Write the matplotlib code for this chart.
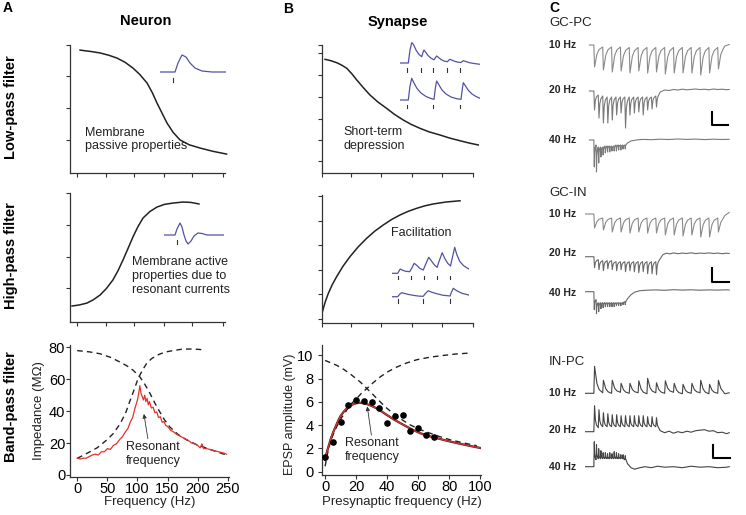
import matplotlib.pyplot as plt

plt.rcParams['font.family'] = ['Liberation Sans', 'DejaVu Sans']

# ---------------- data ----------------
# A: neuron (arbitrary units 0-10)
a1_x = [0.65, 1.3, 1.94, 2.5, 3.03, 3.55, 4.06, 4.5, 4.97, 5.3, 5.61, 5.95, 6.26, 6.65,
        7.1, 7.7, 8.39, 9.2, 10.1]
a1_y = [9.6, 9.5, 9.38, 9.2, 8.98, 8.65, 8.2, 7.7, 7.03, 6.3, 5.47, 4.65, 3.9, 3.18,
        2.58, 2.2, 1.95, 1.7, 1.48]
a2_x = [0.13, 0.6, 1.1, 1.5, 1.94, 2.35, 2.77, 3.1, 3.42, 3.75, 4.06, 4.38, 4.71, 5.15,
        5.61, 6.1, 6.65, 7.29, 7.8, 8.32]
a2_y = [1.24, 1.32, 1.47, 1.72, 2.09, 2.6, 3.26, 3.98, 4.81, 5.72, 6.59, 7.38, 8.06, 8.56,
        8.91, 9.12, 9.22, 9.3, 9.27, 9.15]

# A inset waveforms (ms, mV-like units)
a1_psp_t = [0, 15, 18, 22, 26, 30, 35, 42, 52, 66]
a1_psp_v = [0, 0, 9, 17, 15, 9, 4, 1, 0, 0]
a2_psp_t = [0, 11, 13, 16, 18, 20, 22, 24, 27, 30, 34, 38, 43, 60]
a2_psp_v = [0, 0, 6, 12, 8, 0, -6, -9, -6, -1, 2, 1.5, 0, 0]

# A3: impedance (MOhm) vs frequency (Hz)
lp_f = [0, 20, 38, 55, 71, 83, 93, 104, 112, 121, 129, 137, 145, 154, 167, 182, 198, 215,
        232, 248]
lp_z = [78, 77.2, 76, 73.8, 70.8, 68.3, 65.6, 61.5, 57, 51, 45, 39.6, 34.5, 30, 25.5,
        21.9, 19, 16.7, 14.5, 12.5]
hp_f = [0, 16, 33, 49, 60, 71, 80, 88, 95, 101, 108, 115, 123, 132, 145, 159, 173, 187,
        200, 209]
hp_z = [10.4, 13.5, 17, 21.9, 26, 32, 38.5, 46.9, 54, 60.4, 65.5, 69.8, 72.8, 75, 77, 78,
        78.8, 79, 78.8, 78.5]
imp_f = [0, 5, 10, 15, 20, 25, 30, 35, 40, 45, 50, 55, 60, 65, 70, 75, 80, 84, 88, 92,
         96, 100, 102, 104, 106, 108, 110, 112, 114, 116, 118, 120, 123, 126, 129, 132,
         135, 138, 141, 144, 147, 150, 155, 160, 165, 170, 175, 180, 185, 190, 195, 200,
         204, 207, 210, 215, 220, 225, 230, 235, 240, 245, 248]
imp_z = [10.5, 10, 10.5, 10.5, 11.5, 12.5, 13, 12.5, 14.5, 14.5, 16.5, 16, 18.5, 19.5,
         22, 24, 27, 29, 33, 36, 42, 47, 51, 56, 51, 49, 47, 50, 46, 48, 44, 46, 42, 42.5,
         39, 39.5, 36, 36.5, 33, 33.5, 31, 30.5, 28, 27, 25.5, 24.5, 23.5, 22.5, 21.5, 20,
         19.5, 18.5, 17, 19.5, 16.5, 16.5, 16, 15.5, 15, 14.5, 14, 13.5, 13]

# B: synapse (arbitrary units 0-10)
b1_x = [0.2, 0.6, 0.97, 1.3, 1.64, 1.97, 2.3, 2.75, 3.18, 3.7, 4.28, 4.8, 5.38, 5.9,
        6.49, 7.1, 7.81, 8.45, 9.14, 9.75, 10.35]
b1_y = [8.88, 8.77, 8.62, 8.43, 8.18, 7.76, 7.27, 6.65, 6.09, 5.55, 5.05, 4.58, 4.14,
        3.8, 3.49, 3.21, 2.97, 2.73, 2.52, 2.34, 2.19]
b2_x = [0.0, 0.2, 0.42, 0.68, 0.97, 1.4, 1.85, 2.4, 2.96, 3.5, 4.06, 4.6, 5.17, 5.7,
        6.27, 6.8, 7.37, 8.2, 9.14]
b2_y = [0.76, 1.6, 2.32, 3.0, 3.62, 4.45, 5.18, 5.95, 6.62, 7.18, 7.66, 8.08, 8.44, 8.72,
        8.96, 9.15, 9.3, 9.45, 9.55]

# B inset EPSP trains
dep5_t = [0, 8.3, 10, 11.7, 13.5, 16, 19, 21.7, 23, 24, 25.5, 28, 31, 34, 35.5, 36.7,
          38.5, 41, 44, 47.5, 49, 50, 52, 55, 58, 61, 62.3, 63.3, 65.5, 69, 74, 80]
dep5_v = [0, 0, 13, 20.3, 18.5, 13, 8.5, 6.3, 10.5, 13, 11, 7.5, 4.8, 3.2, 5.5, 7, 5.5,
          3.5, 2, 1.3, 3, 3.7, 2.8, 1.6, 0.8, 0.5, 1.6, 2.3, 1.6, 0.4, -0.5, -1.3]
dep5_stim = [7.3, 20.7, 33.3, 46.7, 60]
dep3_t = [0, 8.3, 10, 11.7, 14, 17, 21, 26, 31, 34, 35.5, 36.7, 39, 42, 46, 51, 57, 61,
          62.3, 63.3, 65.5, 68.5, 72, 76, 80]
dep3_v = [0, 0, 14, 21.7, 17, 11.5, 7, 3.5, 1.5, 0.7, 13, 19, 15, 10, 6, 3, 1.2, 0.7,
          11, 17.3, 14, 9.5, 6, 3.5, 1.7]
dep3_stim = [7.3, 33.3, 60]
fac5_t = [0, 6, 8.5, 11, 14, 18, 20, 22.5, 25, 28, 31.6, 33.5, 37, 40, 43, 45.5, 47,
          50.5, 53, 56, 58.8, 60.5, 63, 65, 68, 72, 77.6]
fac5_v = [0, 0, 4.3, 3, 2, 1.6, 5, 10, 8, 5, 3.3, 8, 16, 12, 8, 6, 11, 20.6, 15, 10,
          7.3, 15, 26, 19, 12, 7.5, 4]
fac5_stim = [6, 19, 32.3, 45, 58.3]
fac3_t = [0, 6, 8, 10, 13, 17, 22, 27, 31.6, 33.5, 36.6, 40, 45, 51, 58.3, 60, 61.6,
          65, 70, 77.6]
fac3_v = [0, 0, 2.5, 4, 3.2, 2.2, 1.3, 0.6, 0.4, 3, 6, 4.5, 3, 1.5, 0.7, 5, 8.4, 6,
          3.5, 1.5]
fac3_stim = [6, 31.6, 58.3]

# B3: EPSP amplitude (mV) vs presynaptic frequency (Hz)
dep_f = [0, 7.5, 12, 16, 19.5, 22.6, 26.9, 30, 33.3, 38.7, 42.5, 46.2, 50.5, 54.8, 61,
         67.7, 74, 80.6, 89, 97.8]
dep_a = [9.57, 9.15, 8.8, 8.43, 8.05, 7.72, 7.15, 6.75, 6.3, 5.58, 5.15, 4.79, 4.38,
         4.02, 3.62, 3.3, 3.0, 2.74, 2.47, 2.22]
fac_f = [0, 1.5, 3.2, 5.2, 7.5, 10.5, 14, 17, 20.4, 23.5, 26.9, 31, 35.5, 40.5, 46.2,
         52.5, 59.1, 67.5, 76.3, 84, 92.5]
fac_a = [0.45, 1.5, 2.45, 3.2, 3.87, 4.6, 5.3, 5.85, 6.3, 6.75, 7.15, 7.65, 8.15, 8.6,
         9.0, 9.35, 9.63, 9.85, 10.0, 10.12, 10.2]
fit_f = [0, 1, 2.2, 3.7, 5.4, 7.5, 9.7, 11.8, 14, 16, 18.3, 20.5, 22.6, 24.8, 26.9, 30,
         33.3, 36.5, 39.8, 45, 50.5, 55.8, 61.3, 66.5, 72, 78.5, 85, 92.5, 100]
fit_a = [1.0, 1.6, 2.16, 2.83, 3.44, 4.1, 4.73, 5.12, 5.44, 5.65, 5.81, 5.9, 5.92, 5.89,
         5.81, 5.65, 5.44, 5.17, 4.87, 4.43, 4.02, 3.64, 3.3, 3.07, 2.88, 2.65, 2.45,
         2.23, 2.03]
epsp_f = [0, 5, 10, 15, 20, 25, 30, 35, 40, 45, 50, 55, 60, 65, 70]
epsp_a = [1.25, 2.55, 4.25, 5.7, 6.15, 6.05, 5.95, 5.5, 4.2, 4.8, 4.85, 3.5, 3.75, 3.15, 3.0]

# C: recordings, stimulus onsets (ms) and response sizes (trace units)
on10 = [100, 200, 300, 400, 500, 600, 700, 800, 900, 1000, 1100, 1200, 1300, 1400, 1500]
on20 = [100, 150, 200, 250, 300, 350, 400, 450, 500, 550, 600, 650, 700, 750, 800]
on40 = [100, 125, 150, 175, 200, 225, 250, 275, 300, 325, 350, 375, 400, 425, 450]

gcpc10_pk = [-22, -25, -27, -26, -28, -26, -28, -27, -29, -28, -28, -28, -30, -28, -24]
gcpc10_rest = [-2, -2, -2, -2.5, -2.5, -2.5, -2.5, -2.5, -2.5, -2.5, -2.5, -2.5, -2.5, -2.5, -1.5]
gcpc10_tt = [1580, 1630]
gcpc10_tv = [-1, 0.5]
gcpc20_pk = [-19, -27, -32, -32, -29, -24, -22, -37, -24, -22, -21, -24, -19, -18, -16]
gcpc20_rest = [-4, -5, -6, -6, -6, -6, -6, -6, -6, -6, -6, -6, -6, -5, -3]
gcpc20_tt = [850, 900, 950, 1000, 1050, 1100, 1150, 1200, 1250, 1300, 1350, 1400, 1450,
             1500, 1550, 1600, 1630]
gcpc20_tv = [-1, 1, 0.5, 1.5, 1, 1.8, 1.2, 1.6, 2, 1.4, 1.8, 1.2, 2, 1.5, 1.8, 1.3, 1.5]
gcpc40_pk = [-27, -32, -23, -17, -15, -13, -12, -12, -11, -11, -11, -10, -10, -9, -9]
gcpc40_rest = [-5, -7, -7, -7, -6, -6, -6, -6, -6, -5, -5, -5, -5, -5, -4]
gcpc40_tt = [480, 520, 580, 650, 750, 850, 950, 1050, 1150, 1250, 1350, 1450, 1550, 1630]
gcpc40_tv = [-3, -1, 0, 0.6, 0.3, 0.8, 0.5, 1, 0.6, 0.9, 0.4, 0.8, 0.5, 0.7]

gcin10_pk = [-14, -16, -18, -18, -19, -18, -19, -19, -21, -21, -22, -21, -23, -23, -18]
gcin10_rest = [-4, -4, -4, -4, -4, -4, -4, -4, -4, -4, -4, -4, -4, -4, -3]
gcin10_tt = [1580, 1630]
gcin10_tv = [-1.5, 1.5]
gcin20_pk = [-11, -13, -14, -12, -13, -14, -13, -15, -14, -15, -16, -15, -17, -17, -18]
gcin20_rest = [-3, -4, -4, -4, -5, -5, -5, -5, -5, -5, -5, -5, -5, -5, -3]
gcin20_tt = [850, 880, 920, 960, 1000, 1050, 1100, 1150, 1200, 1250, 1300, 1350, 1400,
             1450, 1500, 1550, 1600, 1630]
gcin20_tv = [-2, 2, 3.5, 2.8, 3.8, 3, 3.6, 3.2, 3.9, 3.1, 3.6, 3.3, 3.8, 3.2, 3.6, 3,
             3.5, 3.2]
gcin40_pk = [-18, -22, -20, -17, -16, -15, -15, -15, -15, -15, -14, -14, -14, -13, -13]
gcin40_rest = [-8, -11, -11, -11, -11, -11, -11, -11, -11, -11, -11, -11, -11, -10, -9]
gcin40_tt = [480, 520, 560, 620, 700, 800, 900, 1000, 1100, 1200, 1300, 1400, 1500, 1600, 1630]
gcin40_tv = [-7, -3, -0.5, 1, 1.5, 1.8, 1.4, 2, 1.6, 1.9, 1.5, 1.8, 1.6, 1.9, 1.7]

inpc10_pk = [27, 13, 13, 10, 10, 12.5, 15, 10.5, 12.5, 10, 9, 10, 13, 9, 13]
inpc10_rest = [0.5, 0, 1, 0, 0.5, -0.5, 0.5, 0, 1, -0.5, 0, 0.5, -0.5, 0, 0.5]
inpc10_tt = [1580, 1630]
inpc10_tv = [-0.5, 0.5]
inpc20_pk = [26, 22, 19, 18, 17, 17, 16, 16, 16, 16, 16, 16, 15, 15, 14]
inpc20_rest = [4, 5, 5, 5, 5, 5, 5, 5, 5, 5, 5, 5, 5, 5, 3]
inpc20_tt = [850, 900, 950, 1000, 1050, 1100, 1150, 1200, 1250, 1300, 1350, 1400, 1450,
             1500, 1550, 1600, 1630]
inpc20_tv = [1, -1, 0.5, -1.5, 0, -1, 0.5, -0.5, 1, 1.5, 2, 0.5, 1, -1, -0.5, -2, -1]
inpc40_pk = [25, 22, 18, 16, 14, 14, 13, 14, 13, 15, 14, 13, 12, 12, 11]
inpc40_rest = [7, 8, 8, 8, 8, 8, 8, 8, 8, 8, 8, 8, 8, 7, 6]
inpc40_tt = [480, 520, 560, 620, 680, 750, 820, 900, 1000, 1100, 1200, 1300, 1400, 1500,
             1600, 1630]
inpc40_tv = [3, -1, -2.5, -1, 0, -1, 0.5, -0.5, 0, -1, 0.5, -0.5, 0, -1, -0.5, 0]

# ---------------- figure ----------------
W, H = 746, 515
fig = plt.figure(figsize=(W / 100, H / 100), dpi=100)
INK = '#222222'
BLUE = '#5252a4'


def box(x0, y0, x1, y1):
    # axes placed by pixel box (origin top-left)
    return fig.add_axes([x0 / W, 1 - y1 / H, (x1 - x0) / W, (y1 - y0) / H])


def frame(ax, xt, yt, labels=False, ypad=1.5):
    for s in ['top', 'right']:
        ax.spines[s].set_visible(False)
    for s in ['left', 'bottom']:
        ax.spines[s].set_linewidth(0.9)
        ax.spines[s].set_color('#333333')
    ax.set_xticks(xt)
    ax.set_yticks(yt)
    ax.tick_params(direction='out', length=3, width=0.8, color='#333333',
                   labelsize=10.5)
    ax.tick_params(axis='x', pad=0.5)
    ax.tick_params(axis='y', pad=ypad)
    if not labels:
        ax.set_xticklabels([])
        ax.set_yticklabels([])
    ax.patch.set_visible(False)


def inset(x0, y0, x1, y1, xlim, ylim):
    ax = box(x0, y0, x1, y1)
    ax.set_xlim(*xlim)
    ax.set_ylim(*ylim)
    ax.axis('off')
    return ax


def stim(ax, ts, v0, v1):
    for t in ts:
        ax.plot([t, t], [v0, v1], color='#333333', lw=0.8)


def train(start, onsets, peaks, rests, tail_t, tail_v, period):
    t, v = [start], [0]
    prev = 0
    rise = min(8, 0.2 * period)
    for on, p, r in zip(onsets, peaks, rests):
        t += [on, on + rise, on + 0.35 * period, on + 0.6 * period]
        v += [prev, p, r + 0.35 * (p - r), r + 0.12 * (p - r)]
        prev = r
    return t + tail_t, v + tail_v


def text(x, y, s, **kw):
    fig.text(x / W, 1 - y / H, s, **kw)


# panel A1
ax = box(70, 45, 225, 173)
ax.set_xlim(0, 10); ax.set_ylim(0, 10)
frame(ax, [0.45, 2.3, 4.1, 6.06, 7.9, 9.9], [2.58, 5.08, 7.58, 10])
ax.plot(a1_x, a1_y, color=INK, lw=1.1, clip_on=False)
ax.text(0.97, 2.62, 'Membrane\npassive properties', fontsize=9, va='center', color=INK)
ins = inset(160, 52, 226, 84, (0, 66), (-12, 20))
ins.plot(a1_psp_t, a1_psp_v, color=BLUE, lw=0.9)
stim(ins, [13.3], -6.3, -9.7)

# panel A2
ax = box(70, 193, 225, 322)
ax.set_xlim(0, 10); ax.set_ylim(0, 10)
frame(ax, [0.45, 2.3, 4.1, 6.06, 7.9, 9.9], [2.64, 5.04, 7.5, 10])
ax.plot(a2_x, a2_y, color=INK, lw=1.1)
ax.text(4.0, 3.57, 'Membrane active\nproperties due to\nresonant currents',
        fontsize=9, va='center', color=INK)
ins = inset(164, 220, 224, 247, (0, 60), (-12, 15))
ins.plot(a2_psp_t, a2_psp_v, color=BLUE, lw=0.9)
stim(ins, [13], -5, -8.5)

# panel A3
ax = box(70, 345, 229, 477)
ax.set_xlim(-12, 252); ax.set_ylim(-1.3, 81.5)
frame(ax, [0, 50, 100, 150, 200, 250], [0, 20, 40, 60, 80], labels=True, ypad=0.5)
ax.plot(lp_f, lp_z, color=INK, lw=1.0, ls=(0, (4, 3)))
ax.plot(hp_f, hp_z, color=INK, lw=1.0, ls=(0, (4, 3)))
ax.plot(imp_f, imp_z, color='#e2322b', lw=0.9)
ax.annotate('', xy=(110, 40), xytext=(118, 21),
            arrowprops=dict(arrowstyle='-|>', lw=0.6, color='#333333', mutation_scale=6))
ax.text(126, 13, 'Resonant\nfrequency', fontsize=9, ha='center', va='center', color=INK)
ax.set_ylabel('Impedance (M\u03a9)', fontsize=9.5, color=INK)
ax.yaxis.set_label_coords(-0.16, 0.5)
ax.set_xlabel('Frequency (Hz)', fontsize=9.5, color=INK)
ax.xaxis.set_label_coords(0.5, -0.145)

# panel B1
ax = box(322, 45, 473, 173)
ax.set_xlim(0, 10); ax.set_ylim(0, 10)
frame(ax, [0, 1.9, 3.9, 5.96, 7.95, 10], [0.91, 2.56, 4.23, 5.95, 7.62, 9.34, 10])
ax.plot(b1_x, b1_y, color=INK, lw=1.1, clip_on=False)
ax.text(1.41, 2.63, 'Short-term\ndepression', fontsize=9, va='center', color=INK)
ins = inset(400, 40, 480, 73, (0, 80), (-10, 23))
ins.plot(dep5_t, dep5_v, color=BLUE, lw=0.9)
stim(ins, dep5_stim, -5.3, -8.7)
ins = inset(400, 75, 480, 110, (0, 80), (-10, 25))
ins.plot(dep3_t, dep3_v, color=BLUE, lw=0.9)
stim(ins, dep3_stim, -5, -7.7)

# panel B2
ax = box(322, 195, 473, 323)
ax.set_xlim(0, 10); ax.set_ylim(0, 10)
frame(ax, [0, 1.9, 3.9, 5.96, 7.95, 10], [0.33, 2.23, 4.17, 6.1, 8.0, 9.95])
ax.plot(b2_x, b2_y, color=INK, lw=1.1)
ax.text(4.6, 7.0, 'Facilitation', fontsize=9, va='center', color=INK)
ins = inset(391.7, 245.3, 469.3, 281.3, (0, 77.6), (-8, 28))
ins.plot(fac5_t, fac5_v, color=BLUE, lw=0.9)
stim(ins, fac5_stim, -2.7, -6)
ins = inset(391.7, 284.7, 469.3, 304.7, (0, 77.6), (-8, 12))
ins.plot(fac3_t, fac3_v, color=BLUE, lw=0.9)
stim(ins, fac3_stim, -2.6, -6)

# panel B3
ax = box(322, 345, 481, 475)
ax.set_xlim(-2, 100.5); ax.set_ylim(-0.3, 10.9)
frame(ax, [0, 20, 40, 60, 80, 100], [0, 2, 4, 6, 8, 10], labels=True, ypad=3)
ax.plot(dep_f, dep_a, color=INK, lw=1.0, ls=(0, (4, 3)))
ax.plot(fac_f, fac_a, color=INK, lw=1.0, ls=(0, (4, 3)))
ax.plot(fit_f, fit_a, color='#3a2020', lw=1.6)
ax.plot(fit_f, fit_a, color='#e2322b', lw=0.9)
ax.scatter(epsp_f, epsp_a, s=14, color='black', zorder=5)
ax.annotate('', xy=(26.9, 5.85), xytext=(30.1, 2.9),
            arrowprops=dict(arrowstyle='-|>', lw=0.6, color='#333333', mutation_scale=6))
ax.text(30.1, 1.85, 'Resonant\nfrequency', fontsize=9, ha='center', va='center', color=INK)
ax.set_ylabel('EPSP amplitude (mV)', fontsize=9, color=INK)
ax.yaxis.set_label_coords(-0.165, 0.47)
ax.set_xlabel('Presynaptic frequency (Hz)', fontsize=9.5, color=INK)
ax.xaxis.set_label_coords(0.5, -0.16)

# column C traces
traces = [
    (45, 5, 35, 50, on10, gcpc10_pk, gcpc10_rest, gcpc10_tt, gcpc10_tv, 100, '#8a8a8a'),
    (91, 5, 42, 50, on20, gcpc20_pk, gcpc20_rest, gcpc20_tt, gcpc20_tv, 50, '#7a7a7a'),
    (140, 5, 38, 50, on40, gcpc40_pk, gcpc40_rest, gcpc40_tt, gcpc40_tv, 25, '#7a7a7a'),
    (214, 5, 28, 0, on10, gcin10_pk, gcin10_rest, gcin10_tt, gcin10_tv, 100, '#8a8a8a'),
    (256.7, 8, 22, 0, on20, gcin20_pk, gcin20_rest, gcin20_tt, gcin20_tv, 50, '#6a6a6a'),
    (291.7, 5, 28, 0, on40, gcin40_pk, gcin40_rest, gcin40_tt, gcin40_tv, 25, '#6a6a6a'),
    (393.3, 30, 5, 0, on10, inpc10_pk, inpc10_rest, inpc10_tt, inpc10_tv, 100, '#444444'),
    (431.7, 30, 5, 0, on20, inpc20_pk, inpc20_rest, inpc20_tt, inpc20_tv, 50, '#444444'),
    (466.7, 30, 5, 0, on40, inpc40_pk, inpc40_rest, inpc40_tt, inpc40_tv, 25, '#444444'),
]
for base, up, down, start, ons, pk, rest, tt, tv, per, col in traces:
    ins = inset(585, base - up, 731, base + down, (0, 1650), (-down, up))
    t, v = train(start, ons, pk, rest, tt, tv, per)
    ins.plot(t, v, color=col, lw=0.8)

# scale bars
for x0, y0, x1, y1 in [(711.7, 111.7, 728.3, 125), (711.7, 268, 729, 281.7),
                       (713.3, 445, 730, 458.3)]:
    sb = inset(x0, y0, x1, y1, (0, 1), (0, 1))
    sb.plot([0, 0, 1], [1, 0, 0], color='black', lw=1.5, clip_on=False)

# labels
text(3, 8, 'A', fontsize=10, fontweight='bold', va='center')
text(283, 9, 'B', fontsize=10, fontweight='bold', va='center')
text(549, 8, 'C', fontsize=10, fontweight='bold', va='center')
text(146, 21, 'Neuron', fontsize=10.5, fontweight='bold', ha='center', va='center')
text(397.5, 21.7, 'Synapse', fontsize=10.5, fontweight='bold', ha='center', va='center')
for y, s in [(107, 'Low-pass filter'), (256, 'High-pass filter'), (407, 'Band-pass filter')]:
    text(11, y, s, fontsize=10.5, fontweight='bold', rotation=90, ha='center', va='center')

for y, s in [(23, 'GC-PC'), (193, 'GC-IN'), (362, 'IN-PC')]:
    text(549, y, s, fontsize=9.5, va='center', color=INK)
for ys in [(45, 90, 140), (214, 253, 292.7), (393.3, 430, 466.7)]:
    for y, s in zip(ys, ['10 Hz', '20 Hz', '40 Hz']):
        text(576, y, s, fontsize=7.5, fontweight='bold', ha='right', va='center', color=INK)

fig.savefig('out.png', dpi=100)
